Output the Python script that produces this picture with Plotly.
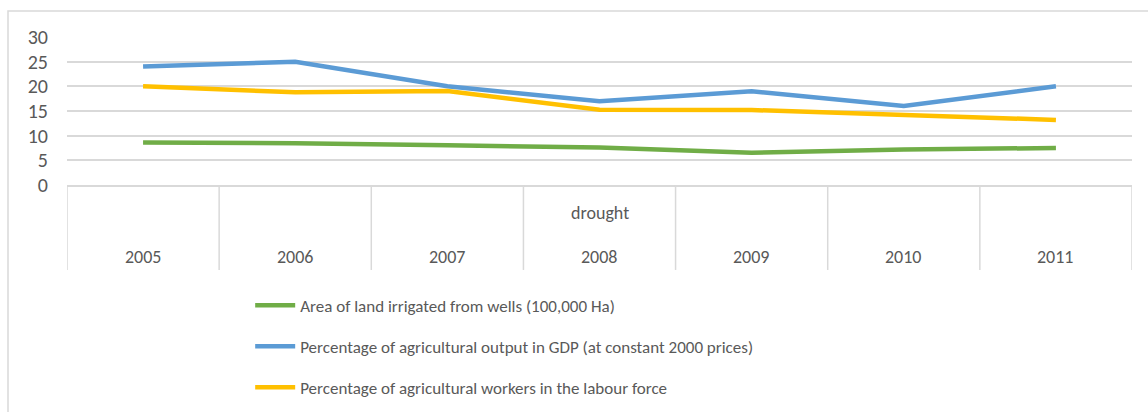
import plotly.graph_objects as go

years = ["2005", "2006", "2007", "2008", "2009", "2010", "2011"]
events = ["", "", "", "drought", "", "", ""]

irrigated_area = [8.6, 8.45, 8.05, 7.6, 6.55, 7.2, 7.5]
agri_gdp_share = [24.0, 25.0, 20.0, 17.0, 19.0, 16.0, 20.0]
agri_workers_share = [20.0, 18.8, 19.05, 15.25, 15.2, 14.2, 13.2]

series_names = [
    "Area of land irrigated from wells (100,000 Ha)",
    "Percentage of agricultural output in GDP (at constant 2000 prices)",
    "Percentage of agricultural workers in the labour force",
]
series_values = [irrigated_area, agri_gdp_share, agri_workers_share]
series_colors = ["#70AD47", "#5B9BD5", "#FFC000"]

y_ticks = [0, 5, 10, 15, 20, 25, 30]

FONT = "Carlito, Lato, 'Liberation Sans', sans-serif"
TEXT = "#595959"
GRID = "#D9D9D9"

fig = go.Figure()
for name, vals, col in zip(series_names, series_values, series_colors):
    fig.add_trace(go.Scatter(
        x=years, y=vals, name=name, mode="lines",
        line=dict(color=col, width=4.5),
        legendgroup=name,
    ))

# category axis: two label rows and dividers below the plot
shapes = []
for i in range(len(years) + 1):
    shapes.append(dict(type="line", xref="x", yref="paper",
                       x0=i - 0.5, x1=i - 0.5, y0=0, y1=-0.574,
                       line=dict(color=GRID, width=1.5)))
# outer frame (top and left edges)
shapes.append(dict(type="rect", xref="paper", yref="paper",
                   x0=-0.0554, x1=1.05, y0=-1.7, y1=1.176,
                   line=dict(color=GRID, width=1.5), layer="below"))

annotations = []
for i, (yr, ev) in enumerate(zip(years, events)):
    annotations.append(dict(x=i, y=-0.486, xref="x", yref="paper", text=yr,
                            showarrow=False, yanchor="middle",
                            font=dict(family=FONT, size=18, color=TEXT)))
    if ev:
        annotations.append(dict(x=i, y=-0.189, xref="x", yref="paper", text=ev,
                                showarrow=False, yanchor="middle",
                                font=dict(family=FONT, size=18, color=TEXT)))

fig.update_layout(
    width=1148, height=412,
    margin=dict(l=67, r=16, t=37, b=227),
    paper_bgcolor="white", plot_bgcolor="white",
    font=dict(family=FONT, size=17, color=TEXT),
    showlegend=True,
    legend=dict(x=0.172, y=0.302, xref="paper", yref="container",
                xanchor="left", yanchor="top",
                font=dict(family=FONT, size=17, color=TEXT),
                tracegroupgap=16, itemwidth=40,
                bgcolor="rgba(0,0,0,0)"),
    xaxis=dict(type="category", range=[-0.5, 6.5], showticklabels=False,
               showgrid=False, showline=True, linecolor=GRID, linewidth=1.5,
               ticks="", zeroline=False, fixedrange=True),
    yaxis=dict(range=[0, 30], tickvals=y_ticks, showgrid=True,
               gridcolor=GRID, gridwidth=1.5, zeroline=False,
               showline=False, ticks="", ticklabelstandoff=18,
               tickfont=dict(family=FONT, size=20, color=TEXT)),
    shapes=shapes,
    annotations=annotations,
)

fig.write_html("out.html")
